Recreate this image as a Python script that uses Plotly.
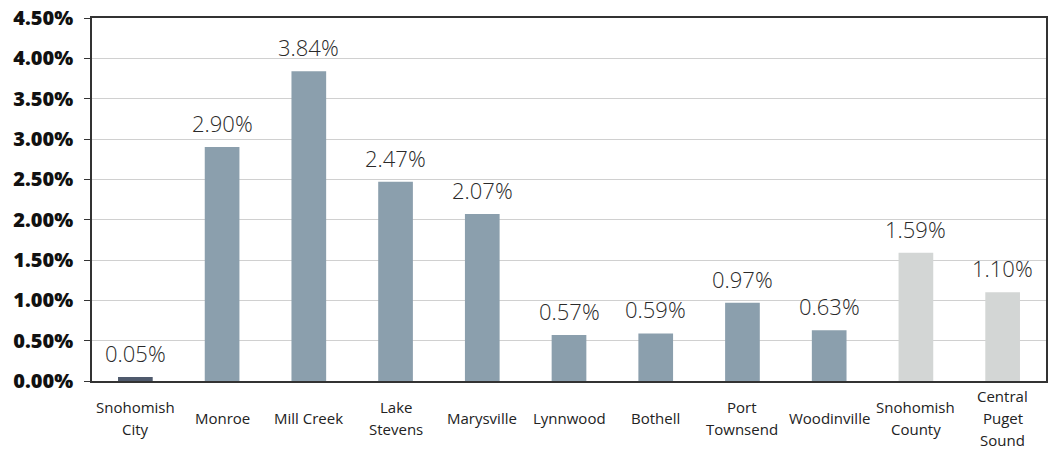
import plotly.graph_objects as go

categories = ["Snohomish<br>City", "Monroe", "Mill Creek", "Lake<br>Stevens", "Marysville",
              "Lynnwood", "Bothell", "Port<br>Townsend", "Woodinville",
              "Snohomish<br>County", "Central<br>Puget<br>Sound"]
values = [0.05, 2.90, 3.84, 2.47, 2.07, 0.57, 0.59, 0.97, 0.63, 1.59, 1.10]
colors = ["#4f5a6d"] + ["#8b9fad"] * 8 + ["#d3d6d5"] * 2
y_ticks = [0, 0.5, 1, 1.5, 2, 2.5, 3, 3.5, 4, 4.5]

fig = go.Figure()
fig.add_trace(go.Bar(x=list(range(len(categories))), y=values, marker_color=colors,
                     marker_line_width=0, width=0.4))

LINE_H = 22
for i, v in enumerate(values):
    fig.add_annotation(x=i, y=v, xref="x", yref="y", text=f"{v:.2f}%", showarrow=False,
                       yanchor="bottom", yshift=7,
                       font=dict(family="Open Sans", size=22, color="#2a2a2a", weight=300))
    lines = categories[i].split("<br>")
    n = len(lines)
    for j, ln in enumerate(lines):
        off = (j - (n - 1) / 2) * LINE_H
        fig.add_annotation(x=i, y=0, xref="x", yref="paper", text=ln, showarrow=False,
                           yanchor="middle", yshift=-37 - off,
                           font=dict(family="Open Sans", size=15, color="#222222"))

fig.update_layout(
    width=1052, height=449,
    margin=dict(l=92, r=4, t=15, b=68),
    paper_bgcolor="white", plot_bgcolor="white",
    showlegend=False,
    bargap=0.6,
)
fig.update_xaxes(range=[-0.5, len(categories) - 0.5], showticklabels=False, showgrid=False,
                 showline=True, linecolor="#333333", linewidth=1.5, mirror=True, ticks="")
fig.update_yaxes(range=[0, 4.5], tickvals=y_ticks, ticktext=[f"{t:.2f}%" for t in y_ticks],
                 showgrid=True, gridcolor="#d0d0d0", gridwidth=1,
                 showline=True, linecolor="#333333", linewidth=1.5, mirror=True,
                 ticks="outside", ticklen=6, tickcolor="#333333", ticklabelstandoff=7,
                 tickfont=dict(family="Open Sans", size=20, color="#111111", weight=800),
                 zeroline=False)

fig.write_html("out.html")
